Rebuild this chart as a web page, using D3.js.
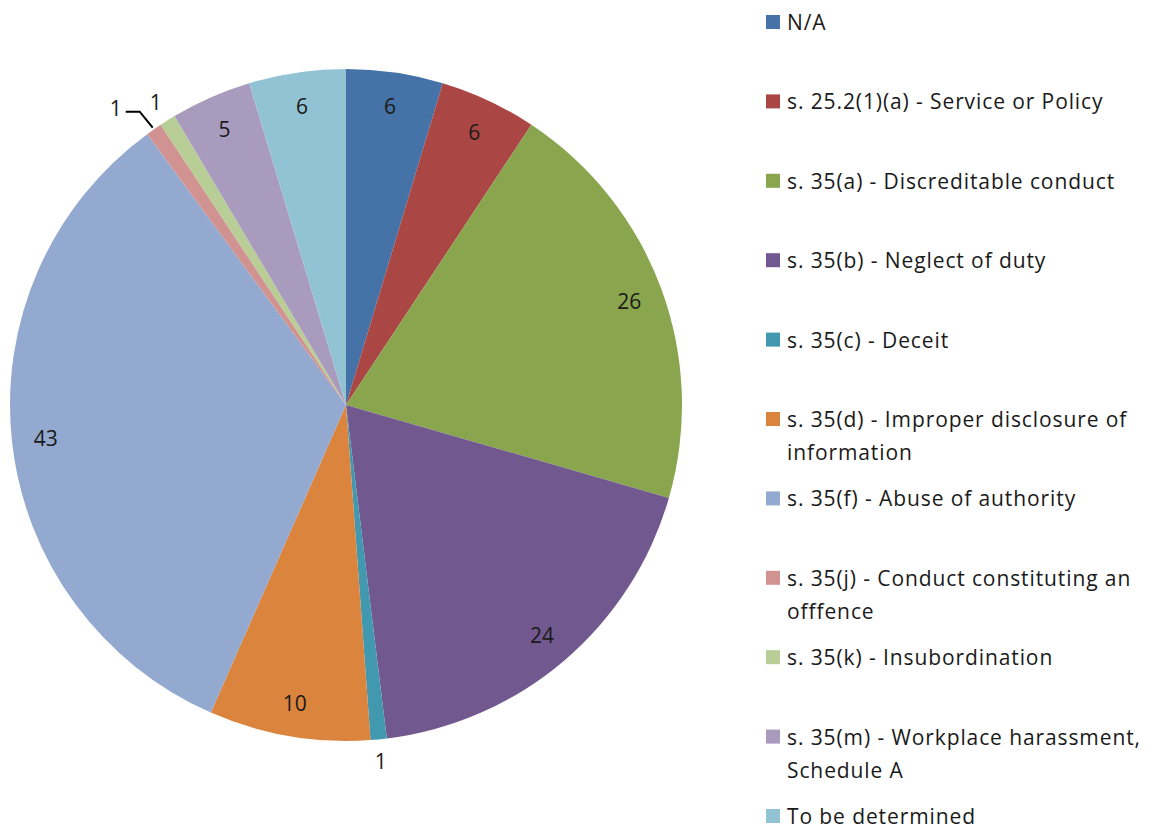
<!DOCTYPE html>
<html>
<head>
<meta charset="utf-8">
<script src="https://cdn.jsdelivr.net/npm/d3@7.9.0/dist/d3.min.js"></script>
<style>
  body { margin: 0; background: #fff; }
  svg { display: block; font-family: "Open Sans", Lato, sans-serif; }
</style>
</head>
<body>
<svg id="chart" width="1162" height="833"></svg>
<script>
const categories = [
  'N/A',
  's. 25.2(1)(a) - Service or Policy',
  's. 35(a) - Discreditable conduct',
  's. 35(b) - Neglect of duty',
  's. 35(c) - Deceit',
  's. 35(d) - Improper disclosure of\ninformation',
  's. 35(f) - Abuse of authority',
  's. 35(j) - Conduct constituting an\nofffence',
  's. 35(k) - Insubordination',
  's. 35(m) - Workplace harassment,\nSchedule A',
  'To be determined'
];
const counts = [6, 6, 26, 24, 1, 10, 43, 1, 1, 5, 6];
const sliceColors = ['#4572A7', '#AA4643', '#89A54E', '#71588F', '#4198AF', '#DB843D',
                     '#93A9CF', '#D19392', '#B9CD96', '#A99BBD', '#92C3D4'];

const data = categories.map((c, i) => ({ label: c, value: counts[i] }));

const svg = d3.select('#chart');
const cx = 346, cy = 405, R = 336;

let pie = d3.pie().value(d => d.value).sort(null);
let arcGenerator = d3.arc().innerRadius(0).outerRadius(R);
let arcData = pie(data);

const g = svg.append('g').attr('transform', `translate(${cx},${cy})`);

g.selectAll('path')
  .data(arcData)
  .enter()
  .append('path')
  .attr('d', arcGenerator)
  .attr('fill', (d, i) => sliceColors[i]);

// labels: big slices inside near the edge, tiny ones outside
const inside = d3.arc().innerRadius(302).outerRadius(302);
const outside = d3.arc().innerRadius(358).outerRadius(358);

arcData.forEach((d, i) => {
  let pos;
  if (d.data.value > 1) pos = inside.centroid(d);
  else pos = outside.centroid(d);
  // the 35(j) slice gets a leader line, label pushed left
  if (i === 7) {
    const edge = d3.arc().innerRadius(R + 2).outerRadius(R + 2).centroid(d);
    const bend = [edge[0] - 13, edge[1] - 16];
    const end = [bend[0] - 14, bend[1]];
    g.append('path')
      .attr('d', d3.line()([edge, bend, end]))
      .attr('fill', 'none')
      .attr('stroke', '#000')
      .attr('stroke-width', 2);
    pos = [end[0] - 10, end[1] - 4];
  }
  g.append('text')
    .attr('x', pos[0])
    .attr('y', pos[1])
    .attr('text-anchor', 'middle')
    .attr('dominant-baseline', 'central')
    .attr('font-size', 21)
    .attr('fill', '#1a1a1a')
    .text(d.data.value);
});

// legend
const legend = svg.append('g').attr('transform', 'translate(766,0)');
const rowY = d3.scaleLinear().domain([0, categories.length - 1]).range([22, 816]);

categories.forEach((c, i) => {
  const y = rowY(i);
  legend.append('rect')
    .attr('x', 0).attr('y', y - 7)
    .attr('width', 14).attr('height', 14)
    .attr('fill', sliceColors[i]);
  const t = legend.append('text')
    .attr('x', 21).attr('y', y)
    .attr('font-size', 21)
    .attr('letter-spacing', 0.9)
    .attr('fill', '#1a1a1a')
    .attr('dominant-baseline', 'central');
  c.split('\n').forEach((line, k) => {
    t.append('tspan').attr('x', 21).attr('dy', k === 0 ? 0 : 33).text(line);
  });
});
</script>
</body>
</html>
